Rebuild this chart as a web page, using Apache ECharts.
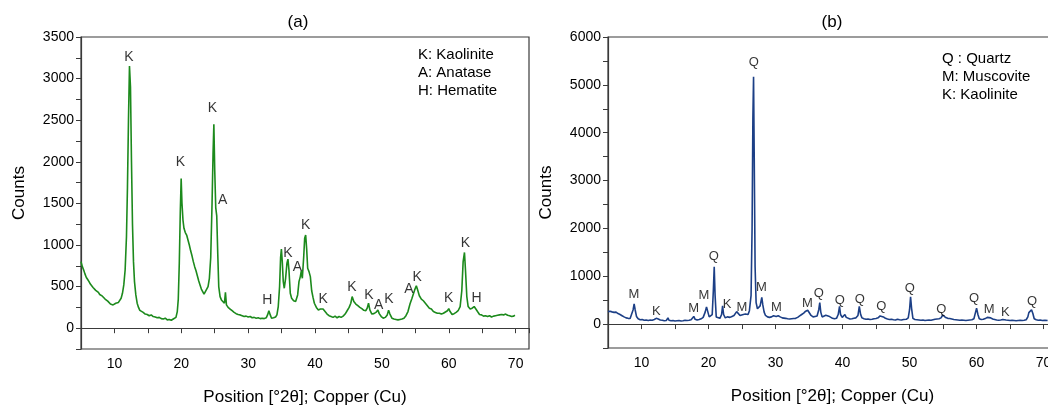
<!DOCTYPE html>
<html>
<head>
<meta charset="utf-8">
<script src="https://cdn.jsdelivr.net/npm/echarts@6/dist/echarts.min.js"></script>
<style>
  html, body { margin: 0; padding: 0; background: #fff; }
  #chart { width: 1048px; height: 407px; }
</style>
</head>
<body>
<div id="chart"></div>
<script>
// (a) pattern: [2theta, counts]
var patternA = [
  [5.0,800],[5.2,740],[5.4,700],[5.6,650],[5.8,610],[6.0,585],[6.2,560],[6.4,530],[6.6,515],[6.8,490],
  [7.0,480],[7.2,455],[7.4,440],[7.6,430],[7.8,405],[8.0,395],[8.2,385],[8.4,365],[8.6,350],[8.8,345],
  [9.0,325],[9.2,320],[9.4,290],[9.6,300],[9.8,280],[10.0,295],[10.2,300],[10.4,290],[10.6,310],[10.8,330],
  [11.0,360],[11.2,420],[11.4,520],[11.6,700],[11.8,1100],[11.95,1700],[12.1,2500],[12.25,3150],[12.4,2900],
  [12.55,2000],[12.7,1250],[12.85,800],[13.0,560],[13.2,400],[13.4,300],[13.6,250],[13.8,215],[14.0,200],
  [14.3,190],[14.6,170],[14.9,165],[15.2,150],[15.5,160],[15.8,140],[16.1,135],[16.4,125],[16.7,130],
  [17.0,115],[17.3,110],[17.6,120],[17.9,100],[18.2,105],[18.5,95],[18.8,110],[19.0,100],[19.2,130],
  [19.4,200],[19.55,350],[19.7,780],[19.85,1400],[19.98,1800],[20.1,1500],[20.25,1300],[20.4,1200],
  [20.6,1150],[20.8,1120],[21.0,1060],[21.2,1000],[21.4,930],[21.6,870],[21.8,800],[22.0,740],[22.2,690],
  [22.4,630],[22.6,570],[22.8,520],[23.0,470],[23.2,440],[23.4,410],[23.6,420],[23.8,470],[24.0,500],
  [24.2,600],[24.4,850],[24.6,1500],[24.75,2100],[24.87,2450],[25.0,1900],[25.15,1450],[25.3,1350],
  [25.45,900],[25.6,500],[25.8,380],[26.0,340],[26.2,320],[26.45,300],[26.6,430],[26.75,280],[27.0,250],
  [27.3,230],[27.6,210],[27.9,190],[28.2,175],[28.5,165],[28.8,160],[29.1,150],[29.4,140],[29.7,145],
  [30.0,135],[30.3,140],[30.6,125],[30.9,130],[31.2,120],[31.5,125],[31.8,115],[32.1,120],[32.4,115],
  [32.7,125],[32.9,160],[33.1,210],[33.3,160],[33.5,120],[33.8,125],[34.1,135],[34.3,160],[34.5,260],
  [34.7,500],[34.85,850],[34.97,950],[35.1,800],[35.25,560],[35.4,480],[35.6,600],[35.8,780],[35.95,830],
  [36.1,700],[36.3,420],[36.5,360],[36.8,330],[37.1,320],[37.4,400],[37.6,560],[37.8,620],[37.95,690],
  [38.1,600],[38.3,850],[38.45,1080],[38.6,1120],[38.75,950],[38.9,720],[39.1,680],[39.3,620],[39.5,450],
  [39.7,370],[39.9,300],[40.2,250],[40.5,220],[40.8,230],[41.0,250],[41.2,230],[41.5,200],[41.8,170],
  [42.1,150],[42.4,140],[42.7,130],[43.0,145],[43.3,125],[43.6,140],[43.9,130],[44.2,145],[44.5,170],
  [44.8,210],[45.1,250],[45.35,300],[45.55,380],[45.8,320],[46.1,290],[46.4,270],[46.7,250],[47.0,235],
  [47.3,215],[47.6,210],[47.8,240],[48.0,300],[48.2,220],[48.5,170],[48.8,175],[49.1,190],[49.4,220],
  [49.6,175],[49.9,140],[50.2,120],[50.5,130],[50.8,160],[51.0,215],[51.2,170],[51.5,120],[51.8,110],
  [52.1,105],[52.4,100],[52.7,105],[53.0,110],[53.3,120],[53.6,150],[53.9,200],[54.2,290],[54.5,360],
  [54.7,380],[54.95,470],[55.15,510],[55.35,460],[55.6,390],[55.9,350],[56.2,330],[56.5,300],[56.8,270],
  [57.1,240],[57.4,230],[57.7,200],[58.0,190],[58.3,180],[58.6,180],[58.9,170],[59.2,180],[59.5,195],
  [59.8,210],[60.0,235],[60.2,200],[60.5,165],[60.8,175],[61.1,190],[61.4,210],[61.7,260],[61.95,450],
  [62.15,800],[62.35,910],[62.5,700],[62.7,380],[62.9,260],[63.2,230],[63.5,240],[63.8,260],[64.0,250],
  [64.3,200],[64.6,165],[64.9,160],[65.2,145],[65.5,150],[65.8,140],[66.1,150],[66.4,135],[66.7,145],
  [67.0,150],[67.3,155],[67.6,160],[67.9,165],[68.2,160],[68.5,170],[68.8,155],[69.1,150],[69.4,140],
  [69.7,145],[69.9,155]
];

// (b) pattern
var patternB = [
  [5.0,260],[5.3,270],[5.6,255],[5.9,245],[6.2,250],[6.5,220],[6.8,200],[7.1,175],[7.4,150],[7.7,130],
  [8.0,120],[8.3,115],[8.55,150],[8.75,300],[8.9,420],[9.05,300],[9.25,160],[9.5,110],[9.8,90],[10.1,95],
  [10.4,80],[10.7,85],[11.0,75],[11.3,85],[11.6,80],[11.9,95],[12.2,120],[12.5,105],[12.8,85],[13.1,80],
  [13.4,70],[13.7,75],[13.95,130],[14.1,80],[14.4,70],[14.7,75],[15.0,65],[15.3,70],[15.6,75],[15.9,65],
  [16.2,70],[16.5,80],[16.8,75],[17.1,80],[17.4,90],[17.6,110],[17.8,160],[18.0,100],[18.3,85],[18.6,95],
  [18.9,110],[19.2,140],[19.5,250],[19.7,360],[19.9,330],[20.1,150],[20.3,110],[20.55,200],[20.72,700],
  [20.85,1200],[20.98,600],[21.15,150],[21.4,110],[21.7,120],[21.95,200],[22.1,380],[22.25,200],[22.5,130],
  [22.8,150],[23.0,185],[23.2,140],[23.5,160],[23.8,180],[24.0,200],[24.2,260],[24.4,220],[24.7,180],
  [24.9,160],[25.2,200],[25.5,210],[25.7,190],[25.9,200],[26.1,280],[26.35,600],[26.5,2000],[26.62,4300],
  [26.72,5170],[26.82,3500],[26.95,1200],[27.1,450],[27.3,320],[27.5,340],[27.7,380],[27.95,560],[28.1,400],
  [28.3,250],[28.5,180],[28.8,150],[29.1,140],[29.4,150],[29.7,175],[29.9,180],[30.1,160],[30.4,175],
  [30.7,150],[31.0,130],[31.2,150],[31.5,120],[31.8,110],[32.1,105],[32.4,110],[32.7,115],[33.0,120],
  [33.3,140],[33.6,170],[33.9,200],[34.2,230],[34.5,270],[34.8,290],[35.0,270],[35.3,180],[35.6,150],
  [35.9,160],[36.2,170],[36.45,300],[36.6,450],[36.75,250],[36.95,150],[37.2,165],[37.5,185],[37.7,200],
  [37.95,165],[38.2,140],[38.5,120],[38.8,110],[39.1,120],[39.35,200],[39.55,370],[39.7,200],[39.95,140],
  [40.2,160],[40.35,200],[40.55,140],[40.8,110],[41.1,105],[41.4,110],[41.7,120],[42.0,130],[42.3,180],
  [42.5,370],[42.7,200],[42.9,130],[43.2,110],[43.5,100],[43.8,105],[44.1,95],[44.4,100],[44.7,110],
  [45.0,115],[45.3,130],[45.6,170],[45.85,210],[46.1,150],[46.4,120],[46.7,105],[47.0,95],[47.3,100],
  [47.6,90],[47.9,85],[48.2,100],[48.5,90],[48.8,85],[49.1,95],[49.5,100],[49.8,130],[50.0,300],
  [50.15,570],[50.3,330],[50.5,120],[50.8,95],[51.1,90],[51.4,85],[51.7,80],[52.0,85],[52.3,75],[52.6,80],
  [52.9,85],[53.2,80],[53.5,90],[53.8,100],[54.1,105],[54.4,110],[54.7,130],[54.95,190],[55.1,160],
  [55.4,135],[55.7,120],[56.0,115],[56.3,105],[56.6,95],[56.9,90],[57.2,85],[57.5,80],[57.8,85],[58.1,80],
  [58.4,75],[58.7,80],[59.0,85],[59.3,90],[59.6,110],[59.85,250],[60.0,330],[60.2,200],[60.4,110],
  [60.7,95],[61.0,100],[61.3,115],[61.6,140],[61.85,160],[62.1,130],[62.4,105],[62.7,95],[63.0,85],
  [63.3,80],[63.6,85],[63.9,95],[64.15,120],[64.4,85],[64.7,80],[65.0,75],[65.3,80],[65.6,75],[65.9,70],
  [66.2,75],[66.5,80],[66.8,75],[67.1,80],[67.4,90],[67.65,150],[67.8,240],[67.95,200],[68.2,300],
  [68.4,220],[68.6,110],[68.9,90],[69.2,80],[69.5,85],[69.8,75],[70.2,80],[70.6,75]
];

// peak letters: [2theta, counts, letter]
var peaksA = [
  [12.17,3257,'K'],[19.88,1995,'K'],[24.67,2644,'K'],[26.17,1538,'A'],[32.86,337,'H'],
  [35.95,898,'K'],[37.35,737,'A'],[38.6,1238,'K'],[41.2,345,'K'],[45.5,489,'K'],
  [48.07,397,'K'],[49.5,276,'A'],[51.06,345,'K'],[54.06,465,'A'],[55.26,617,'K'],
  [60.0,364,'K'],[62.5,1018,'K'],[64.15,364,'H']
];
var peaksB = [
  [26.75,5470,'Q'],[8.88,620,'M'],[12.2,258,'K'],[17.8,327,'M'],[19.33,593,'M'],
  [20.77,1408,'Q'],[22.76,418,'K'],[25.0,348,'M'],[27.88,767,'M'],[30.12,341,'M'],
  [34.75,432,'M'],[36.45,641,'Q'],[39.58,502,'Q'],[42.56,523,'Q'],[45.8,362,'Q'],
  [50.03,746,'Q'],[54.75,314,'Q'],[59.63,537,'Q'],[61.87,307,'M'],[64.3,237,'K'],
  [68.28,467,'Q']
];

var keyA = ['K: Kaolinite', 'A: Anatase', 'H: Hematite'];
var keyB = ['Q : Quartz', 'M: Muscovite', 'K: Kaolinite'];

var FONT = '"Liberation Sans", Arial, sans-serif';
var AXIS = '#3a3a3a';

function xAxisOf(gi) {
    return {
        type: 'value', gridIndex: gi, min: 5, max: 72, interval: 5,
        name: 'Position [°2θ]; Copper (Cu)', nameLocation: 'middle', nameGap: 40,
        nameTextStyle: { fontFamily: FONT, fontSize: 17, color: '#000' },
        axisLine: { show: true, lineStyle: { color: AXIS, width: 1.2 } },
        axisTick: { show: true, length: 5, lineStyle: { color: AXIS } },
        axisLabel: {
            fontFamily: FONT, fontSize: 14, color: '#000', margin: 8,
            formatter: function (v) { return v % 10 === 0 ? v : ''; }
        },
        splitLine: { show: false }
    };
}

function yAxisOf(gi, min, max, step, labelStep) {
    return {
        type: 'value', gridIndex: gi, min: min, max: max, interval: step,
        name: 'Counts', nameLocation: 'middle', nameGap: 53,
        nameTextStyle: { fontFamily: FONT, fontSize: 17, color: '#000' },
        axisLine: { show: true, lineStyle: { color: AXIS, width: 1.2 } },
        axisTick: { show: true, length: 5, lineStyle: { color: AXIS } },
        axisLabel: {
            fontFamily: FONT, fontSize: 14, color: '#000', margin: 7,
            formatter: function (v) { return v % labelStep === 0 ? v : ''; }
        },
        splitLine: { show: false }
    };
}

function letters(list, gi, size) {
    return {
        type: 'scatter', xAxisIndex: gi, yAxisIndex: gi, silent: true,
        symbolSize: 1, itemStyle: { color: 'rgba(0,0,0,0)' },
        label: {
            show: true, position: 'inside', fontFamily: FONT, fontSize: size, color: '#000',
            formatter: function (p) { return p.name; }
        },
        data: list.map(function (d) { return { name: d[2], value: [d[0], d[1]] }; }),
        z: 5
    };
}

function keyText(lines, x, y) {
    return lines.map(function (t, i) {
        return {
            type: 'text', left: x, top: y + i * 18,
            style: { text: t, fontFamily: FONT, fontSize: 15, fill: '#000' }
        };
    });
}

var chart = echarts.init(document.getElementById('chart'));
chart.setOption({
    animation: false,
    backgroundColor: '#fff',
    title: [
        { text: '(a)', left: 293, top: 9, textAlign: 'center',
          textStyle: { fontFamily: FONT, fontSize: 17, fontWeight: 'normal', color: '#000' } },
        { text: '(b)', left: 827, top: 9, textAlign: 'center',
          textStyle: { fontFamily: FONT, fontSize: 17, fontWeight: 'normal', color: '#000' } }
    ],
    grid: [
        { left: 81, top: 37, width: 448, height: 312, show: true, borderColor: AXIS, borderWidth: 1.2,
          outerBoundsMode: 'none' },
        { left: 608, top: 37, width: 449, height: 311, show: true, borderColor: AXIS, borderWidth: 1.2,
          outerBoundsMode: 'none' }
    ],
    xAxis: [xAxisOf(0), xAxisOf(1)],
    yAxis: [yAxisOf(0, -250, 3500, 250, 500), yAxisOf(1, -500, 6000, 500, 1000)],
    series: [
        { type: 'line', xAxisIndex: 0, yAxisIndex: 0, data: patternA, showSymbol: false,
          lineStyle: { color: '#1c8a1c', width: 1.6 } },
        { type: 'line', xAxisIndex: 1, yAxisIndex: 1, data: patternB, showSymbol: false,
          lineStyle: { color: '#1c3f86', width: 1.6 } },
        letters(peaksA, 0, 14),
        letters(peaksB, 1, 13)
    ],
    graphic: keyText(keyA, 418, 47).concat(keyText(keyB, 942, 51))
});
</script>
</body>
</html>
